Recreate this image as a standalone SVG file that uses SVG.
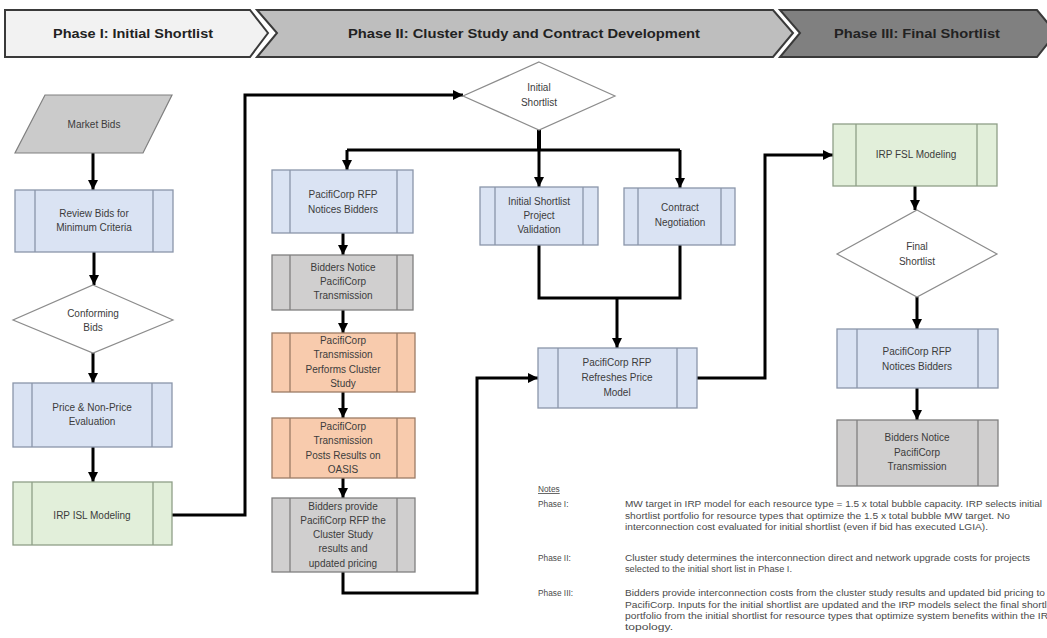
<svg xmlns="http://www.w3.org/2000/svg" width="1047" height="638" viewBox="0 0 1047 638">
<style>
.hdr{stroke:#3a3a3a;stroke-width:2}
.ht{font-family:"Liberation Sans",Arial,sans-serif;font-weight:bold;font-size:13px;fill:#222;text-anchor:middle}
.bx{stroke:#7f7f7f;stroke-width:1.3}
.blue{fill:#dae3f3;stroke:#8a96aa}
.gray{fill:#d0cfcf;stroke:#808080}
.orange{fill:#f8cbad;stroke:#9c7c66}
.green{fill:#e2efda;stroke:#8f9f88}
.dia{fill:#fff;stroke:#8c8c8c;stroke-width:1.2}
.para{fill:#cbcbcb;stroke:#808080;stroke-width:1.2}
.il{stroke-width:1.3}
.t{font-family:"Liberation Sans",Arial,sans-serif;font-size:10px;fill:#3c3c3c;text-anchor:middle}
.c{fill:none;stroke:#000;stroke-width:3}
.n{font-family:"Liberation Sans",Arial,sans-serif;font-size:8.3px;fill:#4a4a4a}
</style>
<defs>
<marker id="ah" markerUnits="userSpaceOnUse" markerWidth="10" markerHeight="10" refX="10" refY="5" orient="auto">
<path d="M0,0 L10,5 L0,10 z" fill="#000"/>
</marker>
</defs>
<rect width="1047" height="638" fill="#fff"/>

<g id="phase1">
<polygon class="hdr" points="5,10 250,10 268,33 250,57 5,57" fill="#f2f2f2"/>
<text class="ht" x="133" y="38" textLength="160" lengthAdjust="spacingAndGlyphs">Phase I: Initial Shortlist</text>
</g>
<g id="phase2">
<polygon class="hdr" points="257,10 773,10 793,33 773,57 257,57 277,33" fill="#bebebe"/>
<text class="ht" x="524" y="38" textLength="352" lengthAdjust="spacingAndGlyphs">Phase II:  Cluster Study and Contract Development</text>
</g>
<g id="phase3">
<polygon class="hdr" points="780,10 1037,10 1056,33 1037,57 780,57 800,33" fill="#808080"/>
<text class="ht" x="917" y="38" textLength="166" lengthAdjust="spacingAndGlyphs">Phase III:  Final Shortlist</text>
</g>

<g id="connectors">
<path class="c" d="M93,153 V190" marker-end="url(#ah)"/>
<path class="c" d="M94,252 V285" marker-end="url(#ah)"/>
<path class="c" d="M93,353 V383" marker-end="url(#ah)"/>
<path class="c" d="M93,447 V482" marker-end="url(#ah)"/>
<path class="c" d="M172,515 H245 V95 H463" marker-end="url(#ah)"/>
<path class="c" d="M539,130 V150" style="stroke-width:4"/>
<path class="c" d="M347,150 H680"/>
<path class="c" d="M347,150 V170" marker-end="url(#ah)"/>
<path class="c" d="M539,150 V187" marker-end="url(#ah)"/>
<path class="c" d="M680,150 V188" marker-end="url(#ah)"/>
<path class="c" d="M343,233 V255" marker-end="url(#ah)"/>
<path class="c" d="M343,310 V333" marker-end="url(#ah)"/>
<path class="c" d="M343,392 V418" marker-end="url(#ah)"/>
<path class="c" d="M343,478 V498" marker-end="url(#ah)"/>
<path class="c" d="M343,572 V593 H477 V378 H538" marker-end="url(#ah)"/>
<path class="c" d="M539,245 V298 H680 V245"/>
<path class="c" d="M617,298 V348" marker-end="url(#ah)"/>
<path class="c" d="M697,378 H765 V155 H833" marker-end="url(#ah)"/>
<path class="c" d="M915,186 V210" marker-end="url(#ah)"/>
<path class="c" d="M917,297 V329" marker-end="url(#ah)"/>
<path class="c" d="M917,388 V420" marker-end="url(#ah)"/>
</g>

<g id="market_bids">
<polygon class="para" points="45,95 172,95 143,153 15,153"/>
<text class="t" x="94" y="128">Market Bids</text>
</g>
<g id="review_bids">
<rect class="bx blue" x="15" y="190" width="158" height="62"/>
<path class="il blue" d="M35,190 V252 M153,190 V252"/>
<text class="t" x="94" y="217">Review Bids for</text>
<text class="t" x="94" y="231">Minimum Criteria</text>
</g>
<g id="conforming_bids">
<polygon class="dia" points="93,285 173,320 93,353 13,320"/>
<text class="t" x="93" y="317">Conforming</text>
<text class="t" x="93" y="331">Bids</text>
</g>
<g id="price_eval">
<rect class="bx blue" x="13" y="383" width="159" height="64"/>
<path class="il blue" d="M32,383 V447 M152,383 V447"/>
<text class="t" x="92" y="411">Price &amp; Non-Price</text>
<text class="t" x="92" y="425">Evaluation</text>
</g>
<g id="irp_isl">
<rect class="bx green" x="13" y="482" width="159" height="63"/>
<path class="il green" d="M32,482 V545 M153,482 V545"/>
<text class="t" x="92" y="519">IRP ISL Modeling</text>
</g>

<g id="initial_shortlist">
<polygon class="dia" points="539,62 615,96 539,130 463,96"/>
<text class="t" x="539" y="91">Initial</text>
<text class="t" x="539" y="106">Shortlist</text>
</g>
<g id="rfp_notices_1">
<rect class="bx blue" x="272" y="170" width="141" height="63"/>
<path class="il blue" d="M290,170 V233 M397,170 V233"/>
<text class="t" x="343" y="198">PacifiCorp RFP</text>
<text class="t" x="343" y="213">Notices Bidders</text>
</g>
<g id="isl_validation">
<rect class="bx blue" x="480" y="187" width="118" height="58"/>
<path class="il blue" d="M495,187 V245 M583,187 V245"/>
<text class="t" x="539" y="205">Initial Shortlist</text>
<text class="t" x="539" y="219">Project</text>
<text class="t" x="539" y="233">Validation</text>
</g>
<g id="contract_neg">
<rect class="bx blue" x="624" y="188" width="111" height="57"/>
<path class="il blue" d="M638,188 V245 M721,188 V245"/>
<text class="t" x="680" y="211">Contract</text>
<text class="t" x="680" y="226">Negotiation</text>
</g>
<g id="bidders_notice_1">
<rect class="bx gray" x="272" y="255" width="141" height="55"/>
<path class="il gray" d="M290,255 V310 M397,255 V310"/>
<text class="t" x="343" y="271">Bidders Notice</text>
<text class="t" x="343" y="285">PacifiCorp</text>
<text class="t" x="343" y="299">Transmission</text>
</g>
<g id="cluster_study">
<rect class="bx orange" x="272" y="333" width="143" height="59"/>
<path class="il orange" d="M290,333 V392 M397,333 V392"/>
<text class="t" x="343" y="344">PacifiCorp</text>
<text class="t" x="343" y="358">Transmission</text>
<text class="t" x="343" y="373">Performs Cluster</text>
<text class="t" x="343" y="387">Study</text>
</g>
<g id="posts_results">
<rect class="bx orange" x="272" y="418" width="143" height="60"/>
<path class="il orange" d="M290,418 V478 M397,418 V478"/>
<text class="t" x="343" y="430">PacifiCorp</text>
<text class="t" x="343" y="444">Transmission</text>
<text class="t" x="343" y="459">Posts Results on</text>
<text class="t" x="343" y="473">OASIS</text>
</g>
<g id="bidders_provide">
<rect class="bx gray" x="272" y="498" width="143" height="74"/>
<path class="il gray" d="M290,498 V572 M397,498 V572"/>
<text class="t" x="343" y="510">Bidders provide</text>
<text class="t" x="343" y="524">PacifiCorp RFP the</text>
<text class="t" x="343" y="538">Cluster Study</text>
<text class="t" x="343" y="552">results and</text>
<text class="t" x="343" y="567">updated pricing</text>
</g>
<g id="refresh_price">
<rect class="bx blue" x="538" y="348" width="159" height="60"/>
<path class="il blue" d="M558,348 V408 M677,348 V408"/>
<text class="t" x="617" y="366">PacifiCorp RFP</text>
<text class="t" x="617" y="381">Refreshes Price</text>
<text class="t" x="617" y="396">Model</text>
</g>

<g id="irp_fsl">
<rect class="bx green" x="833" y="124" width="164" height="62"/>
<path class="il green" d="M856,124 V186 M977,124 V186"/>
<text class="t" x="916" y="158">IRP FSL Modeling</text>
</g>
<g id="final_shortlist">
<polygon class="dia" points="917,210 997,254 917,297 837,254"/>
<text class="t" x="917" y="250">Final</text>
<text class="t" x="917" y="265">Shortlist</text>
</g>
<g id="rfp_notices_2">
<rect class="bx blue" x="837" y="329" width="161" height="59"/>
<path class="il blue" d="M857,329 V388 M978,329 V388"/>
<text class="t" x="917" y="355">PacifiCorp RFP</text>
<text class="t" x="917" y="370">Notices Bidders</text>
</g>
<g id="bidders_notice_2">
<rect class="bx gray" x="837" y="420" width="161" height="66"/>
<path class="il gray" d="M857,420 V486 M978,420 V486"/>
<text class="t" x="917" y="441">Bidders Notice</text>
<text class="t" x="917" y="456">PacifiCorp</text>
<text class="t" x="917" y="470">Transmission</text>
</g>

<g id="notes">
<text class="n" x="538" y="492" text-decoration="underline">Notes</text>
<text class="n" x="538" y="507">Phase I:</text>
<text class="n" x="625" y="507" textLength="417" lengthAdjust="spacingAndGlyphs">MW target in IRP model for each resource type = 1.5 x total bubble capacity.  IRP selects initial</text>
<text class="n" x="625" y="519" textLength="385" lengthAdjust="spacingAndGlyphs">shortlist portfolio for resource types that optimize the 1.5 x total bubble MW target.  No</text>
<text class="n" x="625" y="530" textLength="363" lengthAdjust="spacingAndGlyphs">interconnection cost evaluated for initial shortlist (even if bid has executed LGIA).</text>
<text class="n" x="538" y="561">Phase II:</text>
<text class="n" x="625" y="561" textLength="405" lengthAdjust="spacingAndGlyphs">Cluster study determines the interconnection direct and network upgrade costs for projects</text>
<text class="n" x="625" y="572" textLength="167" lengthAdjust="spacingAndGlyphs">selected to the initial short list in Phase I.</text>
<text class="n" x="538" y="596">Phase III:</text>
<text class="n" x="625" y="596" textLength="420" lengthAdjust="spacingAndGlyphs">Bidders provide interconnection costs from the cluster study results and updated bid pricing to</text>
<text class="n" x="625" y="608" textLength="432" lengthAdjust="spacingAndGlyphs">PacifiCorp.  Inputs for the initial shortlist are updated and the IRP models select the final shortlist</text>
<text class="n" x="625" y="619" textLength="430" lengthAdjust="spacingAndGlyphs">portfolio from the initial shortlist for resource types that optimize system benefits within the IRP</text>
<text class="n" x="625" y="630" textLength="48" lengthAdjust="spacingAndGlyphs">topology.</text>
</g>
</svg>
